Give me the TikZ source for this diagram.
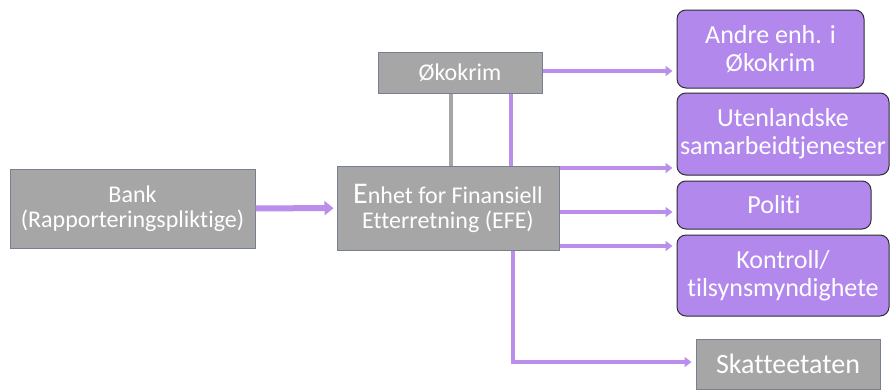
\documentclass[tikz,border=0pt]{standalone}
\usepackage{fontspec}
\setmainfont{Carlito}[Ligatures=NoCommon]
\usepackage{xcolor}
\usepackage{tikz}
\usetikzlibrary{arrows.meta,positioning,calc}

\definecolor{boxgray}{RGB}{166,166,166}
\definecolor{edgegray}{RGB}{118,128,145}
\definecolor{boxpurple}{RGB}{178,136,237}
\definecolor{linepurple}{RGB}{187,142,236}
\definecolor{edgedark}{RGB}{45,45,50}

\begin{document}
\begin{tikzpicture}[x=1pt,y=-1pt,
    graybox/.style={draw=edgegray, line width=1pt, fill=boxgray, text=white, align=center,
      inner sep=0pt, font=\fontsize{24}{25}\selectfont},
    purplebox/.style={draw=edgedark, line width=1pt, fill=boxpurple, text=white, align=center,
      rounded corners=9pt, inner sep=0pt, font=\fontsize{26}{28}\selectfont},
    flow/.style={draw=linepurple, line width=3.5pt, -{Triangle[length=7pt,width=10pt]}, shorten >=4pt},
    bigflow/.style={draw=linepurple, line width=6pt, -{Triangle[length=9pt,width=14pt]}, shorten >=3pt},
    link/.style={line width=3.5pt}]
  \useasboundingbox[fill=white] (0,0) rectangle (891,389);
  % Boxes
  \node[graybox, minimum width=245pt, minimum height=79pt] (bank) at (132.5,208.5)
    {Bank\\(Rapporteringspliktige)};
  \node[graybox, minimum width=222pt, minimum height=84pt] (efe) at (448,208)
    {{\fontsize{30}{25}\selectfont E}nhet for Finansiell\\Etterretning (EFE)};
  \node[graybox, minimum width=164pt, minimum height=41pt] (oko) at (460,72.5) {Økokrim};
  \node[purplebox, minimum width=187pt, minimum height=78pt] (andre) at (770.5,49)
    {Andre enh. i\\Økokrim};
  \node[purplebox, minimum width=212pt, minimum height=82pt] (ute) at (783,134)
    {Utenlandske\\samarbeidtjenester};
  \node[purplebox, minimum width=194pt, minimum height=48pt] (politi) at (774,205) {Politi};
  \node[purplebox, minimum width=212pt, minimum height=81pt] (kontroll) at (783,275.5)
    {Kontroll/\\tilsynsmyndighete};
  \node[graybox, minimum width=184pt, minimum height=50pt, font=\fontsize{28}{30}\selectfont]
    (skatt) at (788,364) {Skatteetaten};
  % Links between Økokrim and EFE
  \draw[link, draw=boxgray] (oko.south -| 451,0) -- (efe.north -| 451,0);
  \draw[link, draw=linepurple] (oko.south -| 511,0) -- (efe.north -| 511,0);
  % Arrows
  \draw[bigflow] (bank) -- (efe);
  \draw[flow] (oko.east |- 0,71) -- (andre.west |- 0,71);
  \draw[flow] (efe.east |- 0,168) -- (ute.west |- 0,168);
  \draw[flow] (efe.east |- 0,212) -- (politi.west |- 0,212);
  \draw[flow] (efe.east |- 0,246) -- (kontroll.west |- 0,246);
  \draw[flow] (efe.south -| 513,0) |- (skatt.west |- 0,362);
\end{tikzpicture}
\end{document}
